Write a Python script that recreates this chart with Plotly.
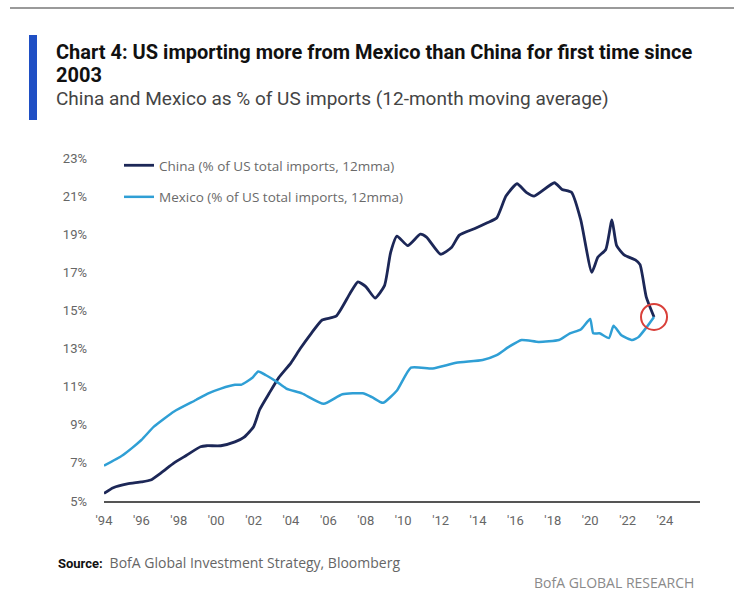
import plotly.graph_objects as go

# China share of US imports, 12-month moving average (%)
china_dates = [
    "1994-01", "1994-07", "1995-04", "1996-01", "1996-07", "1997-02", "1997-10",
    "1998-06", "1999-03", "1999-07", "2000-04", "2001-01", "2001-07", "2002-01",
    "2002-05", "2002-11", "2003-05", "2004-01", "2004-07", "2005-02", "2005-09",
    "2006-06", "2007-03", "2007-08", "2008-01", "2008-07", "2009-01", "2009-05",
    "2009-09", "2010-04", "2010-12", "2011-04", "2012-01", "2012-08", "2013-01",
    "2013-11", "2014-07", "2015-01", "2015-07", "2016-02", "2016-08", "2017-01",
    "2018-02", "2018-07", "2019-01", "2019-07", "2020-02", "2020-06", "2020-11",
    "2021-03", "2021-06", "2021-11", "2022-06", "2022-09", "2023-01", "2023-06",
]
china_share = [
    5.4, 5.7, 5.9, 6.0, 6.1, 6.5, 7.0,
    7.4, 7.85, 7.9, 7.9, 8.1, 8.35, 8.9,
    9.8, 10.65, 11.45, 12.25, 13.0, 13.8, 14.5,
    14.7, 15.9, 16.5, 16.25, 15.65, 16.3, 18.05,
    18.9, 18.4, 19.0, 18.85, 17.95, 18.3, 18.95,
    19.3, 19.6, 19.85, 21.0, 21.65, 21.2, 21.0,
    21.7, 21.35, 21.2, 19.75, 17.0, 17.8, 18.2,
    19.75, 18.4, 17.9, 17.65, 17.4, 15.7, 14.66,
]

# Mexico share of US imports, 12-month moving average (%)
mexico_dates = [
    "1994-01", "1995-01", "1996-01", "1996-09", "1997-10", "1998-12", "1999-08",
    "2000-04", "2001-01", "2001-05", "2001-12", "2002-04", "2002-09", "2003-04",
    "2003-10", "2004-08", "2005-10", "2006-10", "2007-11", "2008-05", "2008-12",
    "2009-09", "2010-06", "2011-08", "2012-11", "2014-04", "2015-01", "2015-09",
    "2016-05", "2017-04", "2018-05", "2018-12", "2019-07", "2020-01", "2020-03",
    "2020-07", "2021-01", "2021-04", "2021-09", "2022-04", "2022-08", "2023-01",
    "2023-06",
]
mexico_share = [
    6.85, 7.4, 8.2, 8.9, 9.7, 10.3, 10.65,
    10.9, 11.1, 11.1, 11.45, 11.8, 11.6, 11.25,
    10.9, 10.65, 10.1, 10.6, 10.65, 10.45, 10.15,
    10.8, 12.0, 11.95, 12.25, 12.4, 12.65, 13.1,
    13.45, 13.35, 13.45, 13.8, 14.0, 14.55, 13.8,
    13.8, 13.55, 14.2, 13.7, 13.45, 13.6, 14.1,
    14.66,
]

tick_years = list(range(1994, 2025, 2))
tick_dates = [f"{y}-01-01" for y in tick_years]
tick_text = [f"'{y % 100:02d}" for y in tick_years]
y_ticks = list(range(5, 24, 2))
y_text = [f"{v}%" for v in y_ticks]

CHINA_COLOR = "#1c2757"
MEXICO_COLOR = "#2f9fd5"
FONT = "Roboto, Arial, sans-serif"
LIGHT_FONT = "Open Sans, Roboto, Arial, sans-serif"

# plot area geometry in pixels (used for placing decorations in paper coords)
W, H = 734, 594
L, R, T, B = 104, 34, 158, 93
PW, PH = W - L - R, H - T - B


def px_x(x):
    return (x - L) / PW


def px_y(y):
    return (H - B - y) / PH


fig = go.Figure()
fig.add_trace(go.Scatter(
    x=china_dates, y=china_share, mode="lines",
    name="China (% of US total imports, 12mma)",
    line=dict(color=CHINA_COLOR, width=2.8, shape="spline", smoothing=0.5),
    legendgroup="china",
))
fig.add_trace(go.Scatter(
    x=mexico_dates, y=mexico_share, mode="lines",
    name="Mexico (% of US total imports, 12mma)",
    line=dict(color=MEXICO_COLOR, width=2.5, shape="spline", smoothing=0.5),
    legendgroup="mexico",
))

fig.update_layout(
    width=W, height=H,
    margin=dict(l=L, r=R, t=T, b=B),
    paper_bgcolor="white", plot_bgcolor="white",
    font=dict(family=FONT, size=12, color="#555555"),
    showlegend=True,
    legend=dict(
        x=px_x(119), y=px_y(150), xanchor="left", yanchor="top",
        bgcolor="rgba(0,0,0,0)",
        font=dict(family=LIGHT_FONT, size=13.5, color="#6a6a6a"),
        tracegroupgap=11, itemwidth=30,
    ),
    xaxis=dict(
        type="date", range=["1994-01-01", "2025-11-15"],
        tickvals=tick_dates, ticktext=tick_text,
        showgrid=False, zeroline=False,
        showline=True, linecolor="#555555", linewidth=2,
        ticks="", ticklabelstandoff=6,
        tickfont=dict(size=13, color="#666666"),
    ),
    yaxis=dict(
        range=[5, 23], tickvals=y_ticks, ticktext=y_text,
        showgrid=False, zeroline=False, showline=False,
        ticks="", ticklabelstandoff=16,
        tickfont=dict(size=13, color="#666666"),
    ),
)

# circle highlighting where Mexico overtakes China
fig.add_shape(
    type="circle", xref="x", yref="y",
    xsizemode="pixel", ysizemode="pixel",
    xanchor=china_dates[-1], yanchor=china_share[-1],
    x0=-13, x1=13, y0=-13, y1=13,
    line=dict(color="#d9403a", width=2),
)

# header rule and accent bar
fig.add_shape(type="line", xref="paper", yref="paper",
              x0=px_x(10), x1=px_x(734), y0=px_y(8), y1=px_y(8),
              line=dict(color="#9a9a9a", width=2))
fig.add_shape(type="rect", xref="paper", yref="paper",
              x0=px_x(29), x1=px_x(37), y0=px_y(120), y1=px_y(35),
              fillcolor="#1f4fc4", line=dict(width=0))

annotations = [
    dict(text="<b>Chart 4: US importing more from Mexico than China for first time since</b>",
         x=px_x(54), y=px_y(52), font=dict(size=20, color="#111111")),
    dict(text="<b>2003</b>",
         x=px_x(54), y=px_y(75), font=dict(size=20, color="#111111")),
    dict(text="China and Mexico as % of US imports (12-month moving average)",
         x=px_x(54), y=px_y(98), font=dict(size=19, color="#444444")),
    dict(text="<b><span style='color:#111111'>Source:</span></b> "
              "<span style='font-family:Open Sans;font-size:14px'> BofA Global Investment Strategy, Bloomberg</span>",
         x=px_x(56), y=px_y(562), font=dict(size=13, color="#666666")),
    dict(text="BofA GLOBAL RESEARCH",
         x=px_x(532), y=px_y(582), font=dict(family=LIGHT_FONT, size=14, color="#8a8a8a")),
]
for a in annotations:
    fig.add_annotation(xref="paper", yref="paper", xanchor="left", yanchor="middle",
                       showarrow=False, **a)

fig.write_html("out.html")
